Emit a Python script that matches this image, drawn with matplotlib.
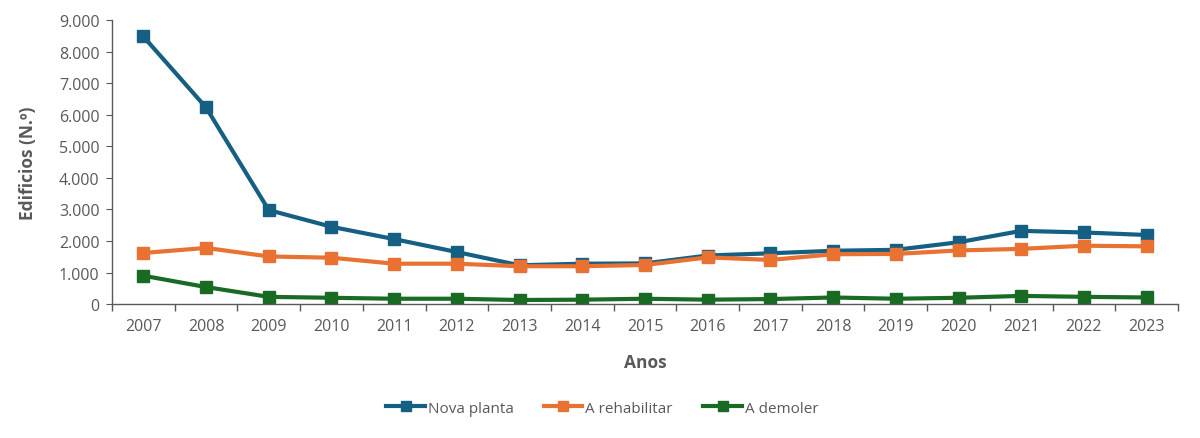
import matplotlib
matplotlib.use("Agg")
import matplotlib.pyplot as plt
from matplotlib.ticker import FuncFormatter, FixedLocator, NullFormatter

years = [str(y) for y in range(2007, 2024)]
nova_planta = [8480, 6230, 2980, 2450, 2060, 1650, 1230, 1280, 1290, 1540, 1610, 1690, 1720, 1960, 2320, 2270, 2190]
a_rehabilitar = [1620, 1780, 1510, 1470, 1280, 1280, 1200, 1200, 1240, 1480, 1400, 1580, 1590, 1700, 1750, 1850, 1830]
a_demoler = [900, 540, 230, 200, 170, 170, 130, 140, 170, 140, 160, 210, 170, 200, 260, 230, 210]

series = [("Nova planta", nova_planta, "#156082"),
          ("A rehabilitar", a_rehabilitar, "#E97132"),
          ("A demoler", a_demoler, "#196B24")]

plt.rcParams['font.family'] = ['Open Sans', 'DejaVu Sans']
gray = "#595959"

fig = plt.figure(figsize=(12, 4.39), dpi=100)
ax = fig.add_axes([0.0933, 0.305, 0.8884, 0.647])

x = list(range(len(years)))
for name, vals, col in series:
    ax.plot(x, vals, color=col, lw=3, marker="s", ms=8, label=name)

ax.set_xlim(-0.5, len(years) - 0.5)
ax.set_ylim(0, 9000)
ax.set_yticks(range(0, 9001, 1000))
ax.yaxis.set_major_formatter(FuncFormatter(lambda v, p: f"{int(v):,}".replace(",", ".")))

ax.set_xticks(x)
ax.set_xticklabels(years)
ax.tick_params(axis="x", which="major", length=0, pad=10, labelsize=11.5, labelcolor=gray)
ax.xaxis.set_minor_locator(FixedLocator([i - 0.5 for i in range(len(years) + 1)]))
ax.xaxis.set_minor_formatter(NullFormatter())
ax.tick_params(axis="x", which="minor", length=5, color=gray, width=1)
ax.tick_params(axis="y", length=4, color=gray, labelsize=11.5, labelcolor=gray, pad=5)

for s in ["top", "right"]:
    ax.spines[s].set_visible(False)
for s in ["left", "bottom"]:
    ax.spines[s].set_color(gray)
    ax.spines[s].set_linewidth(1)

ax.set_xlabel("Anos", fontsize=12.5, fontweight="bold", color=gray, labelpad=14)
ax.set_ylabel("Edificios (N.º)", fontsize=12.5, fontweight="bold", color=gray, labelpad=16)

leg = fig.legend(*ax.get_legend_handles_labels(), loc="center", bbox_to_anchor=(0.502, 0.068), ncol=3,
                 frameon=False, fontsize=11, labelcolor=gray, handlelength=2.5, handletextpad=0.2,
                 columnspacing=2.0, markerscale=0.85)

fig.savefig("out.png", dpi=100)
